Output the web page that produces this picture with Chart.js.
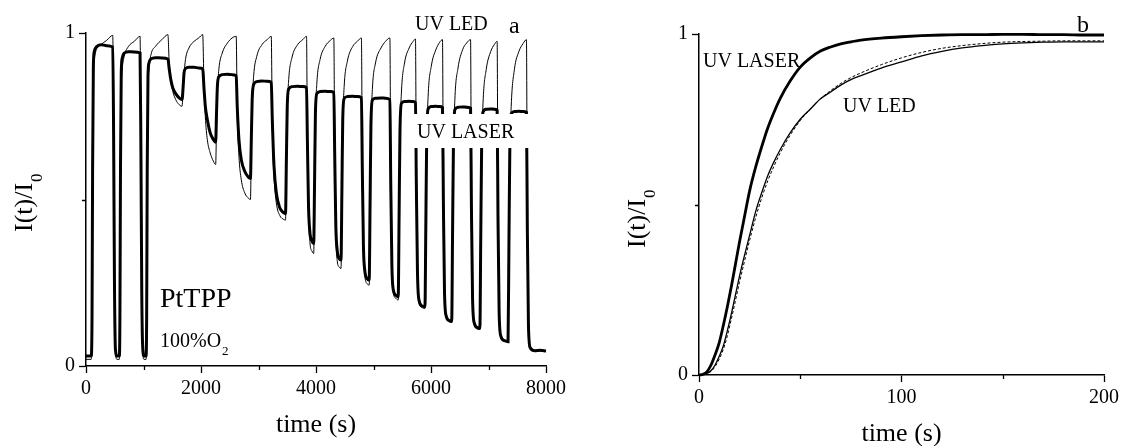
<!DOCTYPE html>
<html><head><meta charset="utf-8">
<script src="https://cdn.jsdelivr.net/npm/chart.js@4.4.1/dist/chart.umd.min.js"></script>
<style>
html,body{margin:0;padding:0;background:#fff;}
#wrap{position:relative;width:1124px;height:446px;overflow:hidden;background:#fff;}
canvas{position:absolute;top:0;}
</style></head><body>
<div id="wrap">
<canvas id="left" width="580" height="446" style="left:0"></canvas>
<canvas id="right" width="544" height="446" style="left:580px"></canvas>
</div>
<script>
// ---------- Panel a: cycling data ----------
const cycleTime = [0,90,
105,115,128,145,180,260,360,465, 480,495,512,540,580,
590,600,613,630,665,740,840,940, 955,970,988,1010,1045,
1055,1065,1078,1095,1130,1210,1320,1425, 1445,1475,1510,1560,1620,1670,
1690,1705,1730,1790,1880,1960,2030, 2050,2075,2110,2160,2215,2255,
2270,2285,2310,2370,2460,2540,2612, 2630,2660,2700,2760,2830,2860,
2875,2890,2915,2970,3060,3150,3222, 3240,3270,3310,3370,3440,3470,
3485,3500,3525,3580,3680,3770,3835, 3850,3870,3895,3930,3960,
3975,3990,4015,4070,4160,4250,4310, 4325,4345,4370,4405,4435,
4450,4465,4490,4545,4640,4720,4790, 4805,4825,4850,4890,4925,
4940,4955,4980,5035,5130,5210,5285, 5300,5320,5345,5390,5430,
5445,5460,5485,5540,5620,5690,5730, 5745,5765,5795,5850,5895,
5910,5925,5950,6005,6085,6150,6200, 6215,6235,6265,6320,6360,
6375,6390,6415,6470,6550,6620,6688, 6703,6723,6755,6810,6850,
6865,6880,6905,6960,7040,7100,7150, 7165,7185,7215,7280,7340,
7355,7370,7395,7450,7530,7600,7660, 7675,7695,7725,7800,7900,8000];

const laserCycle = [0.03,0.03,
0.15,0.60,0.90,0.945,0.958,0.965,0.962,0.958, 0.70,0.25,0.05,0.03,0.03,
0.15,0.60,0.88,0.925,0.94,0.944,0.943,0.94, 0.65,0.22,0.05,0.03,0.03,
0.15,0.60,0.87,0.91,0.922,0.926,0.925,0.922, 0.895,0.86,0.835,0.818,0.805,0.80,
0.84,0.88,0.893,0.897,0.897,0.895,0.893, 0.84,0.78,0.74,0.70,0.68,0.672,
0.76,0.84,0.868,0.875,0.876,0.875,0.872, 0.78,0.68,0.62,0.585,0.566,0.563,
0.68,0.80,0.845,0.854,0.856,0.855,0.852, 0.74,0.60,0.52,0.475,0.46,0.458,
0.62,0.78,0.832,0.839,0.84,0.839,0.836, 0.68,0.48,0.40,0.375,0.368,
0.55,0.76,0.818,0.824,0.825,0.824,0.821, 0.64,0.42,0.345,0.322,0.318,
0.52,0.74,0.803,0.809,0.81,0.809,0.806, 0.60,0.36,0.285,0.262,0.258,
0.48,0.72,0.798,0.804,0.805,0.804,0.80, 0.55,0.30,0.228,0.212,0.208,
0.45,0.70,0.788,0.794,0.795,0.794,0.791, 0.55,0.28,0.195,0.18,0.178,
0.42,0.68,0.772,0.779,0.78,0.779,0.776, 0.50,0.22,0.15,0.136,0.134,
0.40,0.66,0.77,0.777,0.778,0.777,0.774, 0.48,0.20,0.128,0.115,0.113,
0.38,0.65,0.763,0.771,0.772,0.771,0.768, 0.45,0.16,0.09,0.076,0.073,
0.36,0.64,0.757,0.764,0.765,0.764,0.762, 0.42,0.12,0.055,0.046,0.047,0.045];

const ledCycle = [0.02,0.02,
0.12,0.55,0.86,0.92,0.95,0.965,0.978,0.993, 0.70,0.22,0.04,0.02,0.02,
0.12,0.55,0.82,0.89,0.93,0.96,0.975,0.99, 0.65,0.20,0.04,0.02,0.02,
0.12,0.55,0.82,0.89,0.935,0.96,0.98,0.995, 0.92,0.86,0.825,0.80,0.785,0.78,
0.83,0.875,0.92,0.955,0.975,0.985,0.995, 0.86,0.75,0.68,0.64,0.615,0.605,
0.72,0.82,0.89,0.94,0.97,0.985,0.99, 0.76,0.63,0.56,0.52,0.503,0.50,
0.65,0.78,0.87,0.93,0.965,0.98,0.99, 0.72,0.57,0.49,0.452,0.44,0.438,
0.60,0.76,0.86,0.925,0.965,0.98,0.99, 0.68,0.46,0.37,0.345,0.338,
0.53,0.74,0.85,0.92,0.96,0.978,0.985, 0.64,0.40,0.315,0.297,0.293,
0.50,0.72,0.84,0.915,0.96,0.975,0.985, 0.60,0.35,0.27,0.247,0.243,
0.47,0.70,0.83,0.91,0.955,0.975,0.985, 0.55,0.29,0.22,0.203,0.198,
0.44,0.68,0.82,0.91,0.955,0.975,0.982, 0.55,0.27,0.19,0.175,0.173,
0.41,0.66,0.81,0.90,0.95,0.972,0.98, 0.50,0.21,0.145,0.133,0.131,
0.39,0.64,0.80,0.895,0.95,0.97,0.98, 0.48,0.19,0.122,0.111,0.11,
0.37,0.63,0.79,0.89,0.945,0.965,0.975, 0.45,0.15,0.085,0.074,0.072,
0.35,0.62,0.78,0.89,0.945,0.968,0.98, 0.42,0.11,0.05,0.044,0.045,0.044];

const cycleXTicks = [0,2000,4000,6000,8000];
const cycleYTicks = [0,1];

// ---------- Panel b: rise curves ----------
const riseTime = [0,2,4,6,8,10,12,14,16,18,20,22,25,28,31,34,37,40,45,50,55,60,65,70,75,80,90,100,110,120,130,140,150,160,170,180,190,200];
const laserRise = [0,0.002,0.01,0.03,0.06,0.095,0.145,0.20,0.26,0.325,0.39,0.45,0.54,0.61,0.67,0.725,0.77,0.81,0.862,0.903,0.93,0.95,0.962,0.971,0.977,0.982,0.988,0.992,0.995,0.997,0.998,0.998,0.999,0.999,0.998,0.998,0.997,0.997];
const ledRise = [0,0.001,0.005,0.013,0.03,0.055,0.085,0.13,0.18,0.235,0.29,0.34,0.41,0.48,0.535,0.585,0.625,0.66,0.71,0.75,0.78,0.81,0.83,0.85,0.866,0.878,0.90,0.918,0.936,0.949,0.959,0.966,0.971,0.974,0.976,0.977,0.977,0.977];
const fitRise = [0,0,0.004,0.011,0.025,0.047,0.075,0.115,0.165,0.218,0.272,0.322,0.395,0.462,0.52,0.57,0.612,0.65,0.703,0.746,0.78,0.81,0.834,0.855,0.872,0.886,0.91,0.93,0.946,0.958,0.966,0.972,0.976,0.978,0.979,0.98,0.98,0.98];
const riseXTicks = [0,100,200];
const riseYTicks = [0,1];

const FONT = '"Liberation Serif", "Times New Roman", serif';
const zip = (xs, ys) => xs.map((x, i) => ({x, y: ys[i]}));

function drawYTitle(ctx, x, y) {
  ctx.save();
  ctx.translate(x, y);
  ctx.rotate(-Math.PI / 2);
  ctx.fillStyle = '#000';
  ctx.textAlign = 'left';
  ctx.textBaseline = 'alphabetic';
  ctx.font = '26px ' + FONT;
  ctx.fillText('I(t)/I', 0, 0);
  const w = ctx.measureText('I(t)/I').width;
  ctx.font = '17px ' + FONT;
  ctx.fillText('0', w + 1, 10);
  ctx.restore();
}
function text(ctx, s, x, y, size) {
  ctx.font = size + 'px ' + FONT;
  ctx.fillStyle = '#000';
  ctx.textAlign = 'left';
  ctx.textBaseline = 'alphabetic';
  ctx.fillText(s, x, y);
}
function minorTicks(chart, xs, ys) {
  const ctx = chart.ctx, xS = chart.scales.x, yS = chart.scales.y, a = chart.chartArea;
  ctx.save();
  ctx.strokeStyle = '#000';
  ctx.lineWidth = 1.3;
  ctx.beginPath();
  xs.forEach(v => { const p = Math.round(xS.getPixelForValue(v)) + 0.5; ctx.moveTo(p, a.bottom); ctx.lineTo(p, a.bottom + 4); });
  ys.forEach(v => { const p = Math.round(yS.getPixelForValue(v)) + 0.5; ctx.moveTo(a.left, p); ctx.lineTo(a.left - 4, p); });
  ctx.stroke();
  ctx.restore();
}

function axes(xMin, xMax, xTickVals, yTickVals, xHeight, yWidth, titlePad) {
  return {
    x: {
      type: 'linear', min: xMin, max: xMax,
      afterBuildTicks: s => { s.ticks = xTickVals.map(v => ({value: v})); },
      ticks: { font: {family: FONT, size: 20}, color: '#000', padding: 4, maxRotation: 0, autoSkip: false,
               callback: v => String(v) },
      grid: { display: true, drawOnChartArea: false, drawTicks: true, tickLength: 7, tickColor: '#000', tickWidth: 1.3 },
      border: { display: true, color: '#000', width: 1.5 },
      title: { display: true, text: 'time (s)', color: '#000', font: {family: FONT, size: 26, lineHeight: 0.8}, padding: {top: 0, bottom: titlePad} },
      afterFit: s => { s.height = xHeight; }
    },
    y: {
      type: 'linear', min: 0, max: 1,
      afterBuildTicks: s => { s.ticks = yTickVals.map(v => ({value: v})); },
      ticks: { font: {family: FONT, size: 20}, color: '#000', padding: 4, autoSkip: false, callback: v => String(v) },
      grid: { display: true, drawOnChartArea: false, drawTicks: true, tickLength: 7, tickColor: '#000', tickWidth: 1.3 },
      border: { display: true, color: '#000', width: 1.5 },
      afterFit: s => { s.width = yWidth; }
    }
  };
}

Chart.defaults.font.family = FONT;

new Chart(document.getElementById('left'), {
  type: 'line',
  data: { datasets: [
    { label: 'UV LASER', data: zip(cycleTime, laserCycle), borderColor: '#000', borderWidth: 3, pointRadius: 0, cubicInterpolationMode: 'monotone', clip: 6, fill: false },
    { label: 'UV LED', data: zip(cycleTime, ledCycle), borderColor: '#000', borderWidth: 1, pointRadius: 0, cubicInterpolationMode: 'monotone', clip: 6, fill: false }
  ]},
  options: {
    responsive: false, animation: false,
    layout: { padding: {left: 0, top: 33, right: 34, bottom: 0} },
    plugins: { legend: {display: false}, tooltip: {enabled: false} },
    scales: axes(0, 8000, cycleXTicks, cycleYTicks, 80, 86, 10)
  },
  plugins: [{
    id: 'annA',
    afterDatasetsDraw(chart) {
      const ctx = chart.ctx;
      ctx.save();
      ctx.fillStyle = '#fff';
      ctx.fillRect(410, 114, 122, 34);
      text(ctx, 'UV LASER', 417, 138, 20);
      text(ctx, 'UV LED', 415, 30, 20);
      text(ctx, 'a', 509, 33, 24);
      text(ctx, 'PtTPP', 160, 307, 28);
      text(ctx, '100%O', 160, 347, 20);
      const w = ctx.measureText('100%O').width;
      text(ctx, '2', 160 + w + 1, 355, 13);
      ctx.restore();
    },
    afterDraw(chart) {
      minorTicks(chart, [1000, 3000, 5000, 7000], [0.5]);
      drawYTitle(chart.ctx, 32, 232);
    }
  }]
});

new Chart(document.getElementById('right'), {
  type: 'line',
  data: { datasets: [
    { label: 'UV LASER', data: zip(riseTime, laserRise), borderColor: '#000', borderWidth: 2.8, pointRadius: 0, cubicInterpolationMode: 'monotone', clip: 6, fill: false },
    { label: 'UV LED', data: zip(riseTime, ledRise), borderColor: '#000', borderWidth: 1.3, pointRadius: 0, cubicInterpolationMode: 'monotone', clip: 6, fill: false },
    { label: 'fit', data: zip(riseTime, fitRise), borderColor: '#000', borderWidth: 1, borderDash: [3, 2], pointRadius: 0, cubicInterpolationMode: 'monotone', clip: 6, fill: false }
  ]},
  options: {
    responsive: false, animation: false,
    layout: { padding: {left: 0, top: 34, right: 20, bottom: 0} },
    plugins: { legend: {display: false}, tooltip: {enabled: false} },
    scales: axes(0, 200, riseXTicks, riseYTicks, 71, 119, 1)
  },
  plugins: [{
    id: 'annB',
    afterDatasetsDraw(chart) {
      const ctx = chart.ctx;
      ctx.save();
      text(ctx, 'UV LASER', 123, 67, 20);
      text(ctx, 'UV LED', 263, 112, 20);
      text(ctx, 'b', 497, 32, 24);
      ctx.restore();
    },
    afterDraw(chart) {
      minorTicks(chart, [50, 150], [0.5]);
      drawYTitle(chart.ctx, 65, 248);
    }
  }]
});
</script>
</body></html>
